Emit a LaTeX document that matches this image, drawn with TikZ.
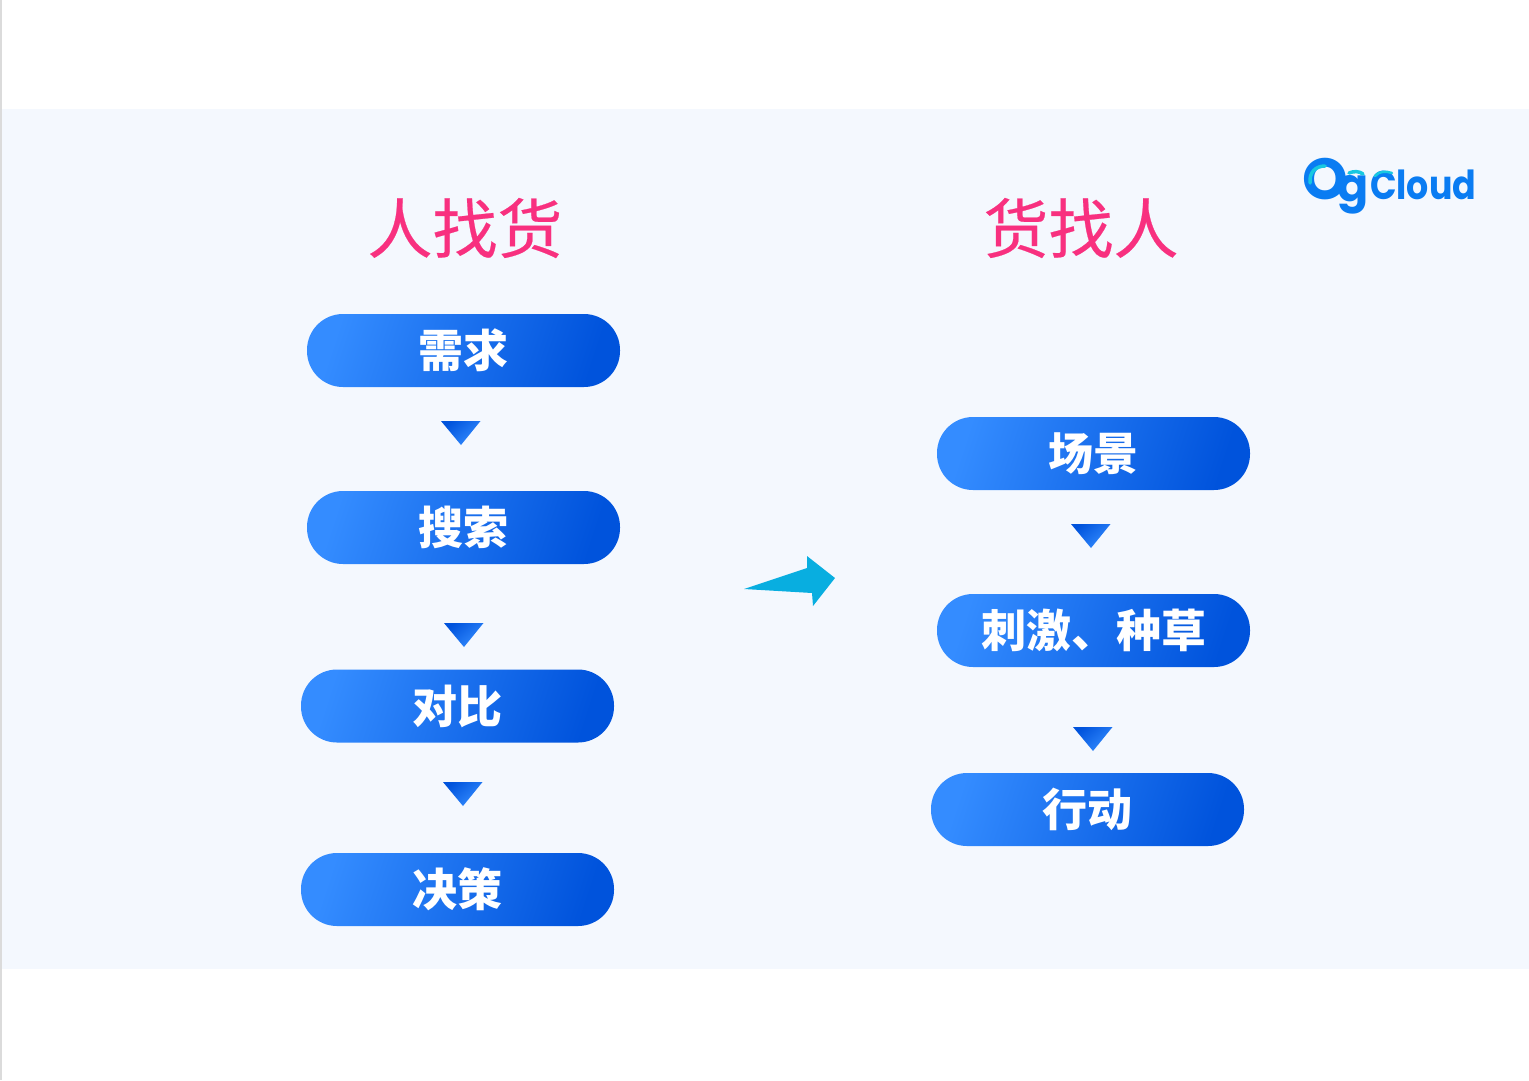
\documentclass[tikz,border=0pt]{standalone}
\usepackage{fontspec}
\newfontfamily\cjkfont{Noto Sans CJK SC}
\newfontfamily\cjktitle[FakeBold=0.35]{Noto Sans CJK SC}
\newfontfamily\logofont{Poppins}
\definecolor{panelbg}{HTML}{F4F8FE}
\definecolor{pinktitle}{HTML}{F8307F}
\definecolor{pilllight}{HTML}{348CFF}
\definecolor{pilldark}{HTML}{0053DC}
\definecolor{arrowcyan}{HTML}{08AEE0}
\definecolor{logoblue}{HTML}{0A7CF2}
\definecolor{logocyan}{HTML}{18C8E0}
\tikzset{
  x=1pt,y=-1pt,
  pillbox/.style={minimum width=313pt,minimum height=73pt,inner sep=0pt,rounded corners=36pt,
    shading=axis,left color=pilllight,right color=pilldark,shading angle=72,
    text=white,font=\cjkfont\bfseries\fontsize{45}{50}\selectfont},
  titletext/.style={inner sep=0pt,text=pinktitle,font=\cjktitle\fontsize{65}{70}\selectfont},
  downtri/.style={shading=axis,left color=pilldark,right color=pilllight,shading angle=40,draw=none},
  logotext/.style={inner sep=0pt,text=logoblue},
  logoaccent/.style={draw=logocyan,line width=3.5pt,line cap=round},
}
\newcommand{\tridown}[2]{\shade[downtri] (#1,#2) -- ++(39.5,0) -- ++(-19.5,24) -- cycle;}
\begin{document}
\begin{tikzpicture}
\useasboundingbox (0,0) rectangle (1529,1080);
\fill[white] (0,0) rectangle (1529,1080);
\fill[panelbg] (0,109) rectangle (1529,969);
\fill[black!14] (0,0) rectangle (1.5,1080);

\node[titletext] (t1) at (465,228) {人找货};
\node[titletext] (t2) at (1081,228) {货找人};

\node[pillbox] (a1) at (463.5,350.5) {需求};
\node[pillbox] (a2) at (463.5,527.5) {搜索};
\node[pillbox] (a3) at (457.5,706) {对比};
\node[pillbox] (a4) at (457.5,889.5) {决策};

\node[pillbox] (b1) at (1093.5,453.5) {场景};
\node[pillbox] (b2) at (1093.5,630.5) {刺激、种草};
\node[pillbox] (b3) at (1087.5,809.5) {行动};

\tridown{441}{421}
\tridown{444}{623}
\tridown{443}{782}
\tridown{1071}{524}
\tridown{1073}{727}

\fill[arrowcyan] (744,589) -- (807,568) -- (807,556) -- (835,578) -- (813,606) -- (812,593) -- cycle;

\node[logotext,font=\logofont\bfseries\fontsize{58}{60}\selectfont] (logoO) at (1325,179) {O};
\node[logotext,anchor=base,font=\logofont\bfseries\fontsize{46}{50}\selectfont] (logog) at (1353,201) {g};
\node[logotext,anchor=base west,xscale=0.87,font=\logofont\bfseries\fontsize{40}{42}\selectfont] (logoc) at (1370,199) {Cloud};
\draw[logoaccent] (1310,183) .. controls (1309,172) and (1316,166) .. (1325,166);
\draw[logoaccent] (1349,173) .. controls (1354,171) and (1359,171) .. (1363,174);
\draw[logoaccent,line width=2.5pt] (1375,176) .. controls (1379,171) and (1386,171) .. (1392,173);
\end{tikzpicture}
\end{document}
